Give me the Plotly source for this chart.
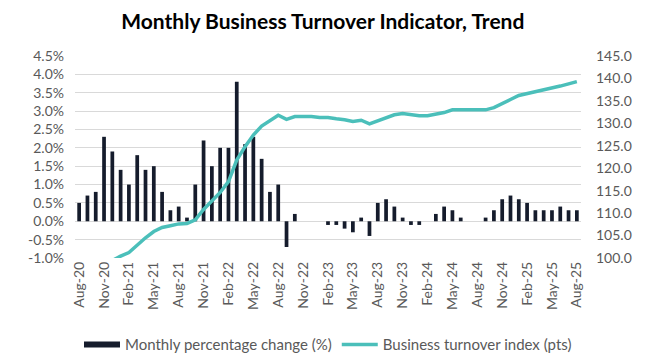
import plotly.graph_objects as go

months = ["Aug-20","Sep-20","Oct-20","Nov-20","Dec-20",
          "Jan-21","Feb-21","Mar-21","Apr-21","May-21","Jun-21","Jul-21","Aug-21","Sep-21","Oct-21","Nov-21","Dec-21",
          "Jan-22","Feb-22","Mar-22","Apr-22","May-22","Jun-22","Jul-22","Aug-22","Sep-22","Oct-22","Nov-22","Dec-22",
          "Jan-23","Feb-23","Mar-23","Apr-23","May-23","Jun-23","Jul-23","Aug-23","Sep-23","Oct-23","Nov-23","Dec-23",
          "Jan-24","Feb-24","Mar-24","Apr-24","May-24","Jun-24","Jul-24","Aug-24","Sep-24","Oct-24","Nov-24","Dec-24",
          "Jan-25","Feb-25","Mar-25","Apr-25","May-25","Jun-25","Jul-25","Aug-25"]

pct_change = [0.5, 0.7, 0.8, 2.3, 1.9,
              1.4, 1.0, 1.8, 1.4, 1.5, 0.8, 0.3, 0.4, 0.1, 1.0, 2.2, 1.5,
              2.0, 2.0, 3.8, 2.1, 2.3, 1.7, 0.8, 1.0, -0.7, 0.2, 0.0, 0.0,
              0.0, -0.1, -0.1, -0.2, -0.3, 0.1, -0.4, 0.5, 0.6, 0.4, 0.1, -0.1,
              -0.1, 0.0, 0.2, 0.4, 0.3, 0.1, 0.0, 0.0, 0.1, 0.3, 0.6, 0.7,
              0.6, 0.5, 0.3, 0.3, 0.3, 0.4, 0.3, 0.3]

turnover_index = [95.6, 96.6, 97.6, 98.5, 99.4,
                  100.4, 101.2, 102.9, 104.5, 105.9, 106.8, 107.2, 107.6, 107.7, 108.5, 110.8, 112.6,
                  114.6, 117.0, 121.8, 124.8, 127.4, 129.4, 130.7, 131.8, 130.9, 131.5, 131.5, 131.5,
                  131.3, 131.3, 131.0, 130.8, 130.4, 130.7, 129.9, 130.5, 131.3, 131.9, 132.2, 131.9,
                  131.7, 131.7, 132.0, 132.4, 133.0, 133.0, 133.0, 133.0, 133.0, 133.5, 134.3, 135.3,
                  136.2, 136.6, 137.0, 137.5, 137.9, 138.3, 138.8, 139.3]

tick_labels = months[::3]

left_ticks = [-1.0, -0.5, 0.0, 0.5, 1.0, 1.5, 2.0, 2.5, 3.0, 3.5, 4.0, 4.5]
right_ticks = [100, 105, 110, 115, 120, 125, 130, 135, 140, 145]

FONT = "Lato"
GREY = "#595959"
BAR_COLOR = "#151c2c"
LINE_COLOR = "#4bbfba"

fig = go.Figure()
fig.add_trace(go.Bar(
    x=months, y=pct_change, name="Monthly percentage change (%)",
    marker=dict(color=BAR_COLOR, line=dict(width=0)), width=0.45,
    showlegend=False,
))
# legend-only entry giving the wide rectangular swatch
fig.add_trace(go.Scatter(
    x=[None], y=[None], name="Monthly percentage change (%)",
    mode="lines", line=dict(color=BAR_COLOR, width=6), showlegend=True,
))
fig.add_trace(go.Scatter(
    x=months, y=turnover_index, name="Business turnover index (pts)",
    mode="lines", line=dict(color=LINE_COLOR, width=3.5), yaxis="y2",
))

fig.update_layout(
    width=660, height=361,
    margin=dict(l=67, r=87, t=48, b=111, autoexpand=False),
    paper_bgcolor="white", plot_bgcolor="white",
    title=dict(text="<b>Monthly Business Turnover Indicator, Trend</b>",
               x=0.477, xanchor="center", y=0.962, yanchor="middle",
               font=dict(family=FONT, size=21, color="black")),
    font=dict(family=FONT, color=GREY, size=14),
    xaxis=dict(type="category", categoryorder="array", categoryarray=months,
               tickmode="array", tickvals=tick_labels, ticktext=tick_labels,
               tickangle=-90, showgrid=False, showline=False, ticks="",
               automargin=False,
               tickfont=dict(size=14, color=GREY), range=[-0.5, len(months)-0.5]),
    yaxis=dict(range=[-1.0, 4.5], tickmode="array", tickvals=left_ticks,
               ticktext=[f"{v:.1f}%" for v in left_ticks], automargin=False,
               showgrid=True, gridcolor="#d9d9d9", gridwidth=1, zeroline=False,
               showline=False, tickfont=dict(size=14, color=GREY), ticklabelstandoff=10),
    yaxis2=dict(range=[100, 145], overlaying="y", side="right", tickmode="array",
                tickvals=right_ticks, ticktext=[f"{v:.1f}" for v in right_ticks],
                showgrid=False, zeroline=False, showline=False, automargin=False,
                tickfont=dict(size=14, color=GREY), ticklabelstandoff=14),
    legend=dict(orientation="h", x=0.5, xanchor="center", y=-0.43, yanchor="middle",
                font=dict(size=15, color=GREY), itemwidth=36, tracegroupgap=0),
    showlegend=True,
)

fig.write_html("out.html")
